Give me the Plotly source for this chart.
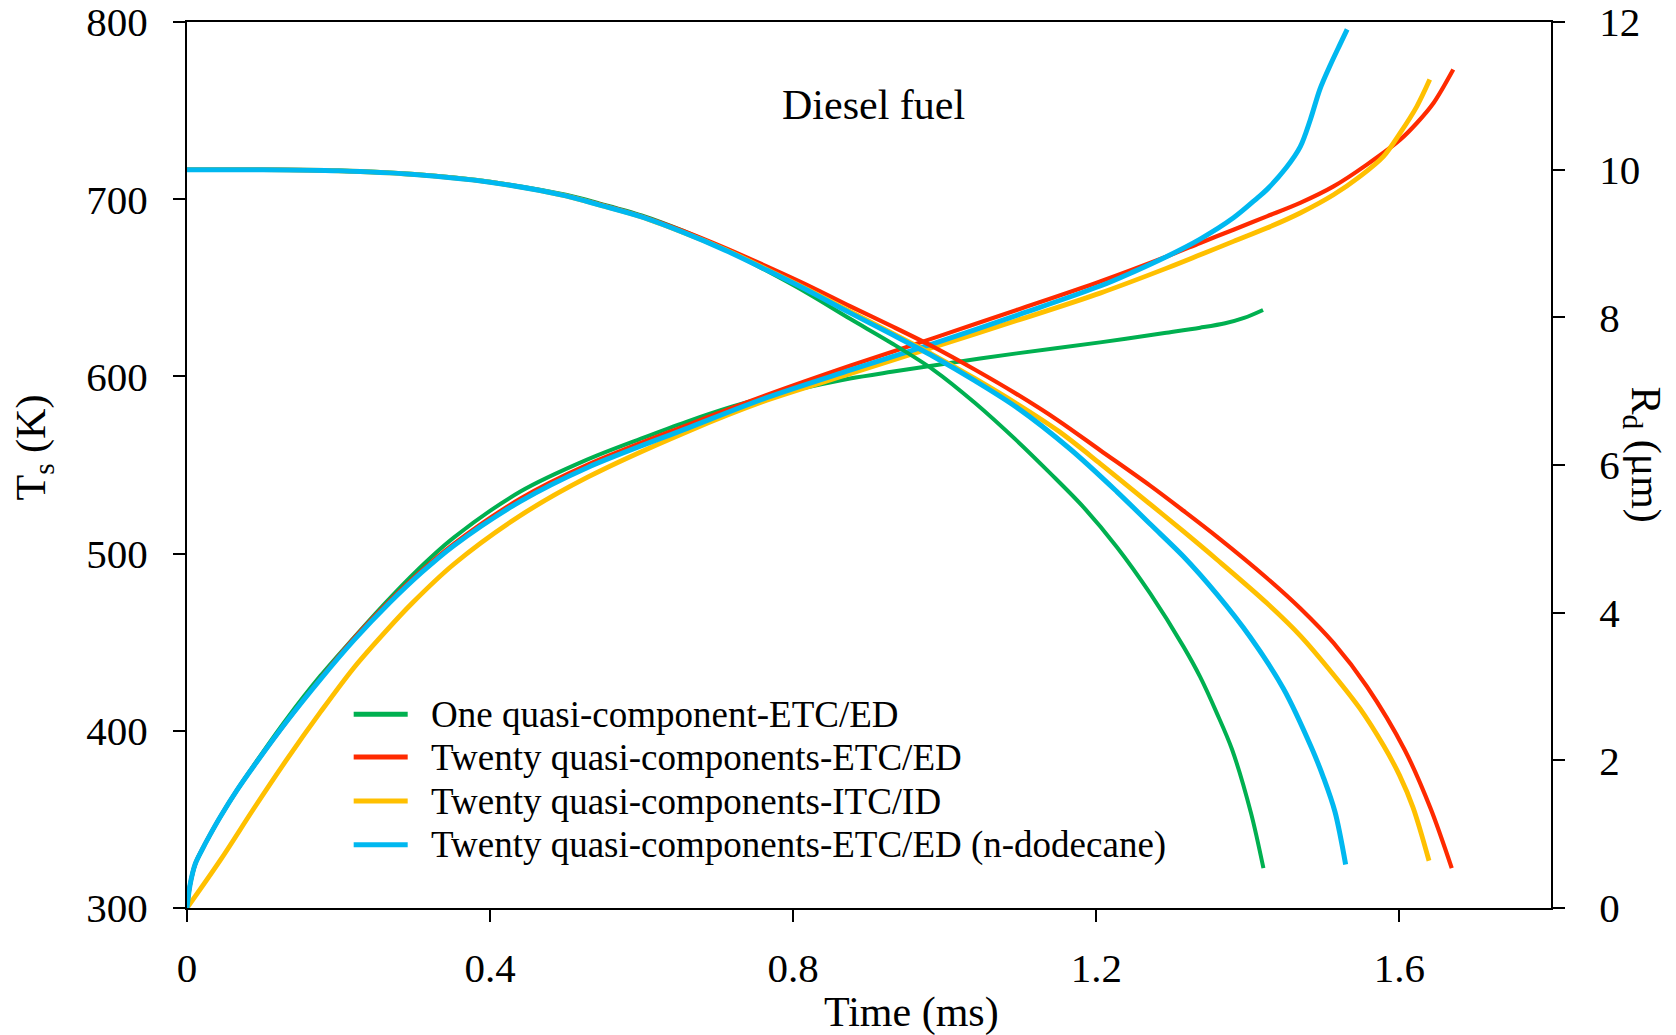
import plotly.graph_objects as go

# ---- Surface temperature T_s (K) vs time (ms) ----
t_T_one = [0, 0.004, 0.011, 0.02, 0.03, 0.044, 0.066, 0.088, 0.132, 0.176, 0.22, 0.257,
           0.3, 0.352, 0.44, 0.528, 0.6, 0.66, 0.72, 0.765, 0.82, 0.875, 0.93, 0.985,
           1.095, 1.205, 1.29, 1.337, 1.37, 1.395, 1.42]
T_one = [300, 313, 325, 333, 341, 351.5, 366.5, 380.5, 407, 431, 452.5, 470,
         489, 509, 535, 553, 565, 574.5, 583, 588.5, 594, 598.8, 602.6, 606.2,
         613, 619.2, 624.5, 627.5, 630, 633, 637.5]

t_T_etc = [0, 0.004, 0.011, 0.02, 0.03, 0.044, 0.066, 0.088, 0.132, 0.176, 0.22, 0.268,
           0.31, 0.352, 0.44, 0.528, 0.66, 0.765, 0.875, 0.985, 1.095, 1.205, 1.293,
           1.337, 1.381, 1.425, 1.469, 1.513, 1.557, 1.601, 1.623, 1.645, 1.671]
T_etc = [300, 313, 325, 333, 341, 351.5, 366.5, 380, 405.5, 429.5, 452, 473.5,
         490.5, 505.5, 531, 550, 572.5, 589.5, 606, 621.6, 637.5, 653.6, 667.7,
         675.3, 682.8, 690.3, 697.9, 707.2, 719.5, 733.6, 743, 754.3, 773.2]

t_T_itc = [0, 0.044, 0.088, 0.132, 0.176, 0.22, 0.264, 0.297, 0.352, 0.44, 0.528, 0.66,
           0.765, 0.875, 0.985, 1.095, 1.205, 1.293, 1.337, 1.381, 1.425, 1.469, 1.513,
           1.548, 1.579, 1.601, 1.623, 1.64]
T_itc = [300, 327, 356, 384, 410.5, 435.5, 457, 472, 494, 521.5, 543, 568.8,
         586.5, 601.5, 616.5, 631.5, 647, 661.1, 668.6, 676.2, 683.7, 692.2, 702.5,
         712.9, 724.2, 737.4, 752.4, 767.5]

t_T_dod = [0, 0.004, 0.011, 0.02, 0.03, 0.044, 0.066, 0.088, 0.132, 0.176, 0.22, 0.268,
           0.31, 0.352, 0.44, 0.528, 0.66, 0.765, 0.875, 0.985, 1.095, 1.205, 1.249,
           1.293, 1.337, 1.381, 1.412, 1.425, 1.451, 1.469, 1.4825, 1.495, 1.508, 1.52,
           1.531]
T_dod = [300, 313, 325, 333, 341, 351.5, 366.5, 380, 405.5, 429, 451, 472.5,
         489.5, 504.5, 529.5, 548.5, 570.7, 588, 603.5, 618.5, 634.5, 651, 659,
         667.7, 677.5, 689.5, 700.5, 705.4, 718, 729.5, 745, 762, 775, 786,
         795.8]

# ---- Droplet radius R_d (um) vs time (ms) ----
t_R_one = [0, 0.1, 0.2, 0.3, 0.4, 0.5, 0.545, 0.6, 0.655, 0.71, 0.765, 0.82, 0.875,
           0.93, 0.985, 1.04, 1.095, 1.139, 1.183, 1.227, 1.271, 1.315, 1.337, 1.359,
           1.379, 1.404, 1.4205]
R_one = [10, 10, 9.99, 9.94, 9.835, 9.66, 9.54, 9.38, 9.17, 8.92, 8.63, 8.32, 7.98,
         7.65, 7.29, 6.84, 6.33, 5.89, 5.43, 4.89, 4.26, 3.54, 3.13, 2.64,
         2.15, 1.29, 0.54]

t_R_etc = [0, 0.1, 0.2, 0.3, 0.4, 0.5, 0.545, 0.6, 0.655, 0.71, 0.765, 0.82, 0.875,
           0.93, 0.985, 1.04, 1.095, 1.15, 1.205, 1.271, 1.315, 1.359, 1.425, 1.469,
           1.513, 1.557, 1.607, 1.641, 1.669]
R_etc = [10, 10, 9.985, 9.935, 9.83, 9.65, 9.53, 9.37, 9.17, 8.94, 8.69, 8.43, 8.15,
         7.88, 7.60, 7.29, 6.96, 6.60, 6.20, 5.72, 5.38, 5.03, 4.47, 4.06,
         3.59, 3.00, 2.14, 1.35, 0.54]

t_R_itc = [0, 0.1, 0.2, 0.3, 0.4, 0.5, 0.545, 0.6, 0.655, 0.71, 0.765, 0.82, 0.875,
           0.93, 0.985, 1.04, 1.095, 1.15, 1.205, 1.271, 1.315, 1.359, 1.425, 1.469,
           1.513, 1.548, 1.579, 1.6, 1.618, 1.639]
R_itc = [10, 10, 9.985, 9.935, 9.83, 9.645, 9.52, 9.36, 9.15, 8.92, 8.65, 8.37, 8.08,
         7.79, 7.49, 7.17, 6.83, 6.46, 6.02, 5.47, 5.10, 4.72, 4.13, 3.69,
         3.16, 2.70, 2.20, 1.80, 1.36, 0.64]

t_R_dod = [0, 0.1, 0.2, 0.3, 0.4, 0.5, 0.545, 0.6, 0.655, 0.71, 0.765, 0.82, 0.875,
           0.93, 0.985, 1.04, 1.095, 1.165, 1.227, 1.271, 1.315, 1.359, 1.403, 1.447,
           1.484, 1.5, 1.515, 1.529]
R_dod = [10, 10, 9.985, 9.935, 9.83, 9.645, 9.52, 9.36, 9.15, 8.91, 8.64, 8.36, 8.06,
         7.77, 7.47, 7.14, 6.78, 6.22, 5.64, 5.20, 4.76, 4.25, 3.67, 2.97,
         2.17, 1.76, 1.30, 0.59]

series_names = [
    "One quasi-component-ETC/ED",
    "Twenty quasi-components-ETC/ED",
    "Twenty quasi-components-ITC/ID",
    "Twenty quasi-components-ETC/ED (n-dodecane)",
]
series_colors = ["#00B050", "#FF2A00", "#FFC000", "#00B8F0"]
series_widths = [4.0, 4.2, 4.8, 5.0]

x_ticks = [0, 0.4, 0.8, 1.2, 1.6]
x_ticktext = ["0", "0.4", "0.8", "1.2", "1.6"]
T_ticks = [300, 400, 500, 600, 700, 800]
R_ticks = [0, 2, 4, 6, 8, 10, 12]

FONT = "Liberation Serif, Times New Roman, serif"

temp_data = [(t_T_one, T_one), (t_T_etc, T_etc), (t_T_itc, T_itc), (t_T_dod, T_dod)]
rad_data = [(t_R_one, R_one), (t_R_etc, R_etc), (t_R_itc, R_itc), (t_R_dod, R_dod)]

fig = go.Figure()

# temperature curves on the left axis
for (tx, ty), name, col, w in zip(temp_data, series_names, series_colors, series_widths):
    fig.add_trace(go.Scatter(
        x=tx, y=ty, mode="lines", name=name, showlegend=False,
        line=dict(color=col, width=w, shape="spline", smoothing=0.9),
        yaxis="y",
    ))

# radius curves on the right axis
for (tx, ry), name, col, w in zip(rad_data, series_names, series_colors, series_widths):
    fig.add_trace(go.Scatter(
        x=tx, y=ry, mode="lines", name=name, showlegend=False,
        line=dict(color=col, width=w, shape="spline", smoothing=0.9),
        yaxis="y2",
    ))

axis_common = dict(
    showline=True, linecolor="black", linewidth=2,
    ticks="outside", ticklen=12, tickwidth=2, tickcolor="black",
    showgrid=False, zeroline=False, automargin=False, ticklabeloverflow="allow",
    tickfont=dict(family=FONT, size=41, color="black"),
)

fig.update_layout(
    width=1676, height=1035,
    margin=dict(l=187, r=125, t=22, b=127, pad=0),
    paper_bgcolor="white", plot_bgcolor="white",
    showlegend=False,
    xaxis=dict(range=[0, 1.8], tickvals=x_ticks, ticktext=x_ticktext, mirror=True,
               ticklabelstandoff=11, **axis_common),
    yaxis=dict(range=[300, 800], tickvals=T_ticks, ticklabelstandoff=17, **axis_common),
    yaxis2=dict(range=[0, 12], tickvals=R_ticks, overlaying="y", side="right",
                ticklabelstandoff=26, **axis_common),
)

# axis titles and panel label
title_font = dict(family=FONT, size=42, color="black")
fig.add_annotation(text="Time (ms)", xref="paper", yref="paper", x=0.5315, y=-0.118,
                   xanchor="center", yanchor="middle", showarrow=False, font=title_font)
fig.add_annotation(text="T<sub>s</sub> (K)", xref="paper", yref="paper", x=-0.112, y=0.52,
                   xanchor="center", yanchor="middle", textangle=-90, showarrow=False,
                   font=title_font)
fig.add_annotation(text="R<sub>d</sub> (\u03bcm)", xref="paper", yref="paper", x=1.0674, y=0.512,
                   xanchor="center", yanchor="middle", textangle=90, showarrow=False,
                   font=title_font)
fig.add_annotation(text="Diesel fuel", x=0.906, y=753, xref="x", yref="y",
                   xanchor="center", yanchor="middle", showarrow=False, font=title_font)

# legend block inside the plot area
LEG_KEY_X0, LEG_KEY_X1, LEG_TEXT_X = 0.1222, 0.1618, 0.1773
LEG_ROWS_Y = [0.2186, 0.1704, 0.1207, 0.0714]
for name, col, ly in zip(series_names, series_colors, LEG_ROWS_Y):
    fig.add_shape(type="line", xref="paper", yref="paper",
                  x0=LEG_KEY_X0, x1=LEG_KEY_X1, y0=ly, y1=ly,
                  line=dict(color=col, width=5))
    fig.add_annotation(text=name, xref="paper", yref="paper", x=LEG_TEXT_X, y=ly,
                       xanchor="left", yanchor="middle", showarrow=False,
                       font=dict(family=FONT, size=37, color="black"))

fig.write_html("out.html")
